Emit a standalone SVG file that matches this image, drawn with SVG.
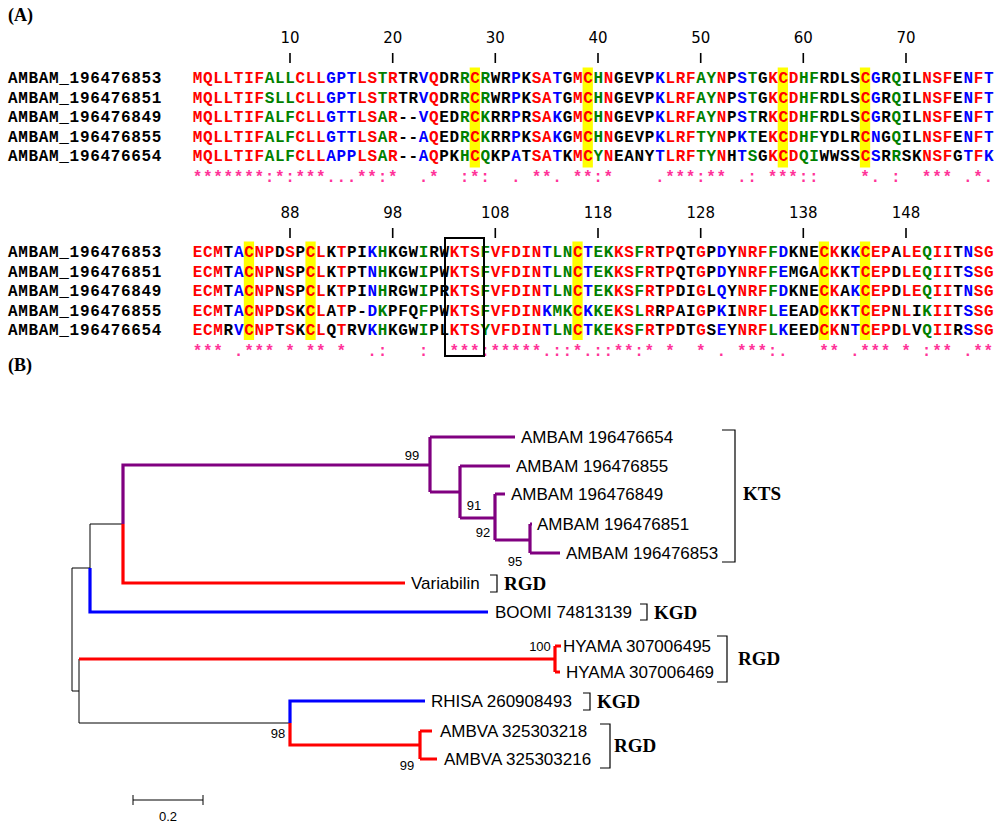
<svg xmlns="http://www.w3.org/2000/svg" width="1000" height="829" viewBox="0 0 1000 829">
<style>
.seq{font-family:"Liberation Mono","DejaVu Sans Mono",monospace;font-weight:bold;font-size:16px;letter-spacing:0.667px;fill:#000}
.r{fill:#ff0000}.g{fill:#008000}.b{fill:#0000ff}
.cons{font-family:"Liberation Mono","DejaVu Sans Mono",monospace;font-weight:bold;font-size:16px;letter-spacing:0.667px;fill:#ff3399;white-space:pre}
.num{font-family:"DejaVu Sans",sans-serif;font-size:15px;fill:#000;text-anchor:middle}
.tick{stroke:#000;stroke-width:1.6}
.hl{fill:#ffff00}
.panel{font-family:"Liberation Serif",serif;font-weight:bold;font-size:18px;fill:#000}
.leaf{font-family:"Liberation Sans",sans-serif;font-size:17px;fill:#000}
.boot{font-family:"Liberation Sans",sans-serif;font-size:13px;fill:#000;text-anchor:middle}
.motif{font-family:"Liberation Serif",serif;font-weight:bold;font-size:19px;fill:#000}
.br{fill:none;stroke:#000;stroke-width:1.2}
.pu{fill:none;stroke:#800080;stroke-width:3.2}
.rd{fill:none;stroke:#ff0000;stroke-width:3.2}
.bl{fill:none;stroke:#0000ff;stroke-width:3.2}
.bk{fill:none;stroke:#000;stroke-width:1}
</style>
<rect width="1000" height="829" fill="#fff"/>
<text class="panel" x="8" y="21">(A)</text>
<g id="alignment-block1">
<rect class="hl" x="469.7" y="67.5" width="10.27" height="100"/>
<rect class="hl" x="582.6" y="67.5" width="10.27" height="100"/>
<rect class="hl" x="777.7" y="67.5" width="10.27" height="100"/>
<rect class="hl" x="859.9" y="67.5" width="10.27" height="100"/>
<g class="num">
<text x="290" y="43">10</text><text x="392.7" y="43">20</text><text x="495.3" y="43">30</text><text x="598" y="43">40</text><text x="700.7" y="43">50</text><text x="803.3" y="43">60</text><text x="906" y="43">70</text>
</g>
<path class="tick" d="M290,53V63M392.7,53V63M495.3,53V63M598,53V63M700.7,53V63M803.3,53V63M906,53V63"/>
<text class="seq" x="8" y="83">AMBAM_196476853</text>
<text class="seq" x="8" y="102.5">AMBAM_196476851</text>
<text class="seq" x="8" y="122">AMBAM_196476849</text>
<text class="seq" x="8" y="141.5">AMBAM_196476855</text>
<text class="seq" x="8" y="161">AMBAM_196476654</text>
<text class="seq" x="192.8" y="83"><tspan class="r">MQLLTIF</tspan><tspan class="g">ALL</tspan><tspan class="r">CLL</tspan><tspan class="b">GPT</tspan><tspan class="r">LS</tspan><tspan class="g">T</tspan><tspan class="r">R</tspan>TR<tspan class="b">V</tspan><tspan class="r">Q</tspan>DR<tspan class="g">R</tspan><tspan class="r">C</tspan><tspan class="g">R</tspan>WR<tspan class="b">P</tspan>K<tspan class="r">SA</tspan><tspan class="b">T</tspan>G<tspan class="r">MC</tspan><tspan class="g">H</tspan><tspan class="r">N</tspan>GEVP<tspan class="b">K</tspan><tspan class="r">LRF</tspan><tspan class="g">AY</tspan><tspan class="r">N</tspan>P<tspan class="b">S</tspan><tspan class="g">T</tspan>G<tspan class="r">KCD</tspan><tspan class="g">HF</tspan>RDLS<tspan class="r">C</tspan><tspan class="b">G</tspan>R<tspan class="g">Q</tspan>IL<tspan class="r">NSF</tspan>E<tspan class="b">N</tspan><tspan class="r">F</tspan><tspan class="b">T</tspan></text>
<text class="seq" x="192.8" y="102.5"><tspan class="r">MQLLTIF</tspan><tspan class="g">SLL</tspan><tspan class="r">CLL</tspan><tspan class="b">GPT</tspan><tspan class="r">LS</tspan><tspan class="g">T</tspan><tspan class="r">R</tspan>TR<tspan class="b">V</tspan><tspan class="r">Q</tspan>DR<tspan class="g">R</tspan><tspan class="r">C</tspan><tspan class="g">R</tspan>WR<tspan class="b">P</tspan>K<tspan class="r">SA</tspan><tspan class="b">T</tspan>G<tspan class="r">MC</tspan><tspan class="g">H</tspan><tspan class="r">N</tspan>GEVP<tspan class="b">K</tspan><tspan class="r">LRF</tspan><tspan class="g">AY</tspan><tspan class="r">N</tspan>P<tspan class="b">S</tspan><tspan class="g">T</tspan>G<tspan class="r">KCD</tspan><tspan class="g">HF</tspan>RDLS<tspan class="r">C</tspan><tspan class="b">G</tspan>R<tspan class="g">Q</tspan>IL<tspan class="r">NSF</tspan>E<tspan class="b">N</tspan><tspan class="r">F</tspan><tspan class="b">T</tspan></text>
<text class="seq" x="192.8" y="122"><tspan class="r">MQLLTIF</tspan><tspan class="g">ALF</tspan><tspan class="r">CLL</tspan><tspan class="b">GTT</tspan><tspan class="r">LS</tspan><tspan class="g">A</tspan><tspan class="r">R</tspan>--<tspan class="b">V</tspan><tspan class="r">Q</tspan>ED<tspan class="g">R</tspan><tspan class="r">C</tspan><tspan class="g">K</tspan>RR<tspan class="b">P</tspan>R<tspan class="r">SA</tspan><tspan class="b">K</tspan>G<tspan class="r">MC</tspan><tspan class="g">H</tspan><tspan class="r">N</tspan>GEVP<tspan class="b">K</tspan><tspan class="r">LRF</tspan><tspan class="g">AY</tspan><tspan class="r">N</tspan>P<tspan class="b">S</tspan><tspan class="g">T</tspan>R<tspan class="r">KCD</tspan><tspan class="g">HF</tspan>RDLS<tspan class="r">C</tspan><tspan class="b">G</tspan>R<tspan class="g">Q</tspan>IL<tspan class="r">NSF</tspan>E<tspan class="b">N</tspan><tspan class="r">F</tspan><tspan class="b">T</tspan></text>
<text class="seq" x="192.8" y="141.5"><tspan class="r">MQLLTIF</tspan><tspan class="g">ALF</tspan><tspan class="r">CLL</tspan><tspan class="b">GTT</tspan><tspan class="r">LS</tspan><tspan class="g">A</tspan><tspan class="r">R</tspan>--<tspan class="b">A</tspan><tspan class="r">Q</tspan>ED<tspan class="g">R</tspan><tspan class="r">C</tspan><tspan class="g">K</tspan>RR<tspan class="b">P</tspan>K<tspan class="r">SA</tspan><tspan class="b">K</tspan>G<tspan class="r">MC</tspan><tspan class="g">H</tspan><tspan class="r">N</tspan>GEVP<tspan class="b">K</tspan><tspan class="r">LRF</tspan><tspan class="g">TY</tspan><tspan class="r">N</tspan>P<tspan class="b">K</tspan><tspan class="g">T</tspan>E<tspan class="r">KCD</tspan><tspan class="g">HF</tspan>YDLR<tspan class="r">C</tspan><tspan class="b">N</tspan>G<tspan class="g">Q</tspan>IL<tspan class="r">NSF</tspan>E<tspan class="b">N</tspan><tspan class="r">F</tspan><tspan class="b">T</tspan></text>
<text class="seq" x="192.8" y="161"><tspan class="r">MQLLTIF</tspan><tspan class="g">ALF</tspan><tspan class="r">CLL</tspan><tspan class="b">APP</tspan><tspan class="r">LS</tspan><tspan class="g">A</tspan><tspan class="r">R</tspan>--<tspan class="b">A</tspan><tspan class="r">Q</tspan>PK<tspan class="g">H</tspan><tspan class="r">C</tspan><tspan class="g">Q</tspan>KP<tspan class="b">A</tspan>T<tspan class="r">SA</tspan><tspan class="b">T</tspan>K<tspan class="r">MC</tspan><tspan class="g">Y</tspan><tspan class="r">N</tspan>EANY<tspan class="b">T</tspan><tspan class="r">LRF</tspan><tspan class="g">TY</tspan><tspan class="r">N</tspan>H<tspan class="b">T</tspan><tspan class="g">S</tspan>G<tspan class="r">KCD</tspan><tspan class="g">QI</tspan>WWSS<tspan class="r">C</tspan><tspan class="b">S</tspan>R<tspan class="g">R</tspan>SK<tspan class="r">NSF</tspan>G<tspan class="b">T</tspan><tspan class="r">F</tspan><tspan class="b">K</tspan></text>
<text class="cons" x="192.8" y="182" xml:space="preserve">*******:*:***...**:*  .*  :*:  . **. **:*    .***:** .: ***::    *. :  *** .*.</text>
</g>
<g id="alignment-block2">
<rect class="hl" x="243.8" y="241.5" width="10.27" height="98.5"/>
<rect class="hl" x="305.4" y="241.5" width="10.27" height="98.5"/>
<rect class="hl" x="572.4" y="241.5" width="10.27" height="98.5"/>
<rect class="hl" x="818.8" y="241.5" width="10.27" height="98.5"/>
<rect class="hl" x="859.9" y="241.5" width="10.27" height="98.5"/>
<g class="num">
<text x="290" y="218">88</text><text x="392.7" y="218">98</text><text x="495.3" y="218">108</text><text x="598" y="218">118</text><text x="700.7" y="218">128</text><text x="803.3" y="218">138</text><text x="906" y="218">148</text>
</g>
<path class="tick" d="M290,228V238M392.7,228V238M495.3,228V238M598,228V238M700.7,228V238M803.3,228V238M906,228V238"/>
<text class="seq" x="8" y="257">AMBAM_196476853</text>
<text class="seq" x="8" y="276.5">AMBAM_196476851</text>
<text class="seq" x="8" y="296">AMBAM_196476849</text>
<text class="seq" x="8" y="315.5">AMBAM_196476855</text>
<text class="seq" x="8" y="335">AMBAM_196476654</text>
<text class="seq" x="192.8" y="257"><tspan class="r">ECM</tspan>T<tspan class="b">A</tspan><tspan class="r">CNP</tspan>D<tspan class="r">S</tspan>P<tspan class="r">CL</tspan>K<tspan class="r">T</tspan>PI<tspan class="b">K</tspan><tspan class="g">H</tspan>KGW<tspan class="g">I</tspan>RW<tspan class="r">KTS</tspan><tspan class="g">F</tspan><tspan class="r">VFDIN</tspan><tspan class="b">T</tspan><tspan class="g">LN</tspan><tspan class="r">C</tspan><tspan class="b">T</tspan><tspan class="g">EK</tspan><tspan class="r">KS</tspan><tspan class="g">F</tspan><tspan class="r">R</tspan>T<tspan class="r">P</tspan>QT<tspan class="r">G</tspan>P<tspan class="b">D</tspan>Y<tspan class="r">NRF</tspan><tspan class="g">F</tspan><tspan class="b">D</tspan>KNE<tspan class="r">CK</tspan>K<tspan class="b">K</tspan><tspan class="r">CEP</tspan>A<tspan class="r">LE</tspan><tspan class="g">Q</tspan><tspan class="r">II</tspan>T<tspan class="b">N</tspan><tspan class="r">SG</tspan></text>
<text class="seq" x="192.8" y="276.5"><tspan class="r">ECM</tspan>T<tspan class="b">A</tspan><tspan class="r">CNP</tspan>N<tspan class="r">S</tspan>P<tspan class="r">CL</tspan>K<tspan class="r">T</tspan>PT<tspan class="b">N</tspan><tspan class="g">H</tspan>KGW<tspan class="g">I</tspan>PW<tspan class="r">KTS</tspan><tspan class="g">F</tspan><tspan class="r">VFDIN</tspan><tspan class="b">T</tspan><tspan class="g">LN</tspan><tspan class="r">C</tspan><tspan class="b">T</tspan><tspan class="g">EK</tspan><tspan class="r">KS</tspan><tspan class="g">F</tspan><tspan class="r">R</tspan>T<tspan class="r">P</tspan>QT<tspan class="r">G</tspan>P<tspan class="b">D</tspan>Y<tspan class="r">NRF</tspan><tspan class="g">F</tspan><tspan class="b">E</tspan>MGA<tspan class="r">CK</tspan>K<tspan class="b">T</tspan><tspan class="r">CEP</tspan>D<tspan class="r">LE</tspan><tspan class="g">Q</tspan><tspan class="r">II</tspan>T<tspan class="b">S</tspan><tspan class="r">SG</tspan></text>
<text class="seq" x="192.8" y="296"><tspan class="r">ECM</tspan>T<tspan class="b">A</tspan><tspan class="r">CNP</tspan>N<tspan class="r">S</tspan>P<tspan class="r">CL</tspan>K<tspan class="r">T</tspan>PI<tspan class="b">N</tspan><tspan class="g">H</tspan>RGW<tspan class="g">I</tspan>PR<tspan class="r">KTS</tspan><tspan class="g">F</tspan><tspan class="r">VFDIN</tspan><tspan class="b">T</tspan><tspan class="g">LN</tspan><tspan class="r">C</tspan><tspan class="b">T</tspan><tspan class="g">EK</tspan><tspan class="r">KS</tspan><tspan class="g">F</tspan><tspan class="r">R</tspan>T<tspan class="r">P</tspan>DI<tspan class="r">G</tspan>L<tspan class="b">Q</tspan>Y<tspan class="r">NRF</tspan><tspan class="g">F</tspan><tspan class="b">D</tspan>KNE<tspan class="r">CK</tspan>A<tspan class="b">K</tspan><tspan class="r">CEP</tspan>D<tspan class="r">LE</tspan><tspan class="g">Q</tspan><tspan class="r">II</tspan>T<tspan class="b">N</tspan><tspan class="r">SG</tspan></text>
<text class="seq" x="192.8" y="315.5"><tspan class="r">ECM</tspan>T<tspan class="b">A</tspan><tspan class="r">CNP</tspan>D<tspan class="r">S</tspan>K<tspan class="r">CL</tspan>A<tspan class="r">T</tspan>P-<tspan class="b">D</tspan><tspan class="g">K</tspan>PFQ<tspan class="g">F</tspan>PW<tspan class="r">KTS</tspan><tspan class="g">F</tspan><tspan class="r">VFDIN</tspan><tspan class="b">K</tspan><tspan class="g">MK</tspan><tspan class="r">C</tspan><tspan class="b">K</tspan><tspan class="g">KE</tspan><tspan class="r">KS</tspan><tspan class="g">L</tspan><tspan class="r">R</tspan>R<tspan class="r">P</tspan>AI<tspan class="r">G</tspan>P<tspan class="b">K</tspan>I<tspan class="r">NRF</tspan><tspan class="g">L</tspan><tspan class="b">E</tspan>EAD<tspan class="r">CK</tspan>K<tspan class="b">T</tspan><tspan class="r">CEP</tspan>N<tspan class="r">L</tspan>I<tspan class="g">K</tspan><tspan class="r">II</tspan>T<tspan class="b">S</tspan><tspan class="r">SG</tspan></text>
<text class="seq" x="192.8" y="335"><tspan class="r">ECM</tspan>R<tspan class="b">V</tspan><tspan class="r">CNP</tspan>T<tspan class="r">S</tspan>K<tspan class="r">CL</tspan>Q<tspan class="r">T</tspan>RV<tspan class="b">K</tspan><tspan class="g">H</tspan>KGW<tspan class="g">I</tspan>PL<tspan class="r">KTS</tspan><tspan class="g">Y</tspan><tspan class="r">VFDIN</tspan><tspan class="b">T</tspan><tspan class="g">LN</tspan><tspan class="r">C</tspan><tspan class="b">T</tspan><tspan class="g">KE</tspan><tspan class="r">KS</tspan><tspan class="g">F</tspan><tspan class="r">R</tspan>T<tspan class="r">P</tspan>DT<tspan class="r">G</tspan>S<tspan class="b">E</tspan>Y<tspan class="r">NRF</tspan><tspan class="g">L</tspan><tspan class="b">K</tspan>EED<tspan class="r">CK</tspan>N<tspan class="b">T</tspan><tspan class="r">CEP</tspan>D<tspan class="r">L</tspan>V<tspan class="g">Q</tspan><tspan class="r">II</tspan>R<tspan class="b">S</tspan><tspan class="r">SG</tspan></text>
<text class="cons" x="192.8" y="356" xml:space="preserve">*** .*** * ** *  .:   :  ***:*****.::*.::**:* *  * . ***:.   ** .*** * :** .**</text>
<rect x="445" y="238" width="39" height="118" fill="none" stroke="#000" stroke-width="2"/>
</g>
<text class="panel" x="8" y="371">(B)</text>
<g id="connectors">
<path class="bk" d="M90,524H123M90,524V568M72,568H90M72,568V691M72,691H79M79,659V723M79,723H290"/>
<path class="pu" d="M123,524V465H430M430,437V492M430,437H515M430,492H460M460,466V518M460,466H510M460,518H495M495,494V540M495,494H505M495,540H530M530,524V553M530,524H532M530,553H560"/>
<path class="rd" d="M123,524V583H405"/>
<path class="bl" d="M90,568V612H488"/>
<path class="rd" d="M79,659H555M555,646V672M555,646H561M555,672H560"/>
<path class="bl" d="M290,723V701H425"/>
<path class="rd" d="M290,723V745H420M420,731V759M420,731H432M420,759H437"/>
</g>
<g id="bootstrap">
<text class="boot" x="412" y="460">99</text>
<text class="boot" x="474" y="510">91</text>
<text class="boot" x="483" y="537">92</text>
<text class="boot" x="515" y="566">95</text>
<text class="boot" x="540" y="651">100</text>
<text class="boot" x="278" y="738">98</text>
<text class="boot" x="407" y="770">99</text>
</g>
<g id="leaf-654"><text class="leaf" x="521" y="443">AMBAM 196476654</text></g>
<g id="leaf-855"><text class="leaf" x="516" y="472">AMBAM 196476855</text></g>
<g id="leaf-849"><text class="leaf" x="511" y="500">AMBAM 196476849</text></g>
<g id="leaf-851"><text class="leaf" x="537" y="530">AMBAM 196476851</text></g>
<g id="leaf-853"><text class="leaf" x="566" y="559">AMBAM 196476853</text></g>
<g id="leaf-variabilin"><text class="leaf" x="411" y="589">Variabilin</text></g>
<g id="leaf-boomi"><text class="leaf" x="495" y="618">BOOMI 74813139</text></g>
<g id="leaf-hyama495"><text class="leaf" x="563" y="652">HYAMA 307006495</text></g>
<g id="leaf-hyama469"><text class="leaf" x="566" y="678">HYAMA 307006469</text></g>
<g id="leaf-rhisa"><text class="leaf" x="431" y="707">RHISA 260908493</text></g>
<g id="leaf-ambva218"><text class="leaf" x="440" y="737">AMBVA 325303218</text></g>
<g id="leaf-ambva216"><text class="leaf" x="444" y="765">AMBVA 325303216</text></g>
<g id="motif-kts"><path class="br" d="M722,430H735V562H722"/><text class="motif" x="743" y="500">KTS</text></g>
<g id="motif-rgd1"><path class="br" d="M490,575H497V592H490"/><text class="motif" x="504" y="590">RGD</text></g>
<g id="motif-kgd1"><path class="br" d="M640,604H647V620H640"/><text class="motif" x="654" y="619">KGD</text></g>
<g id="motif-rgd2"><path class="br" d="M717,636H727V682H717"/><text class="motif" x="738" y="665">RGD</text></g>
<g id="motif-kgd2"><path class="br" d="M583,693H590V710H583"/><text class="motif" x="597" y="708">KGD</text></g>
<g id="motif-rgd3"><path class="br" d="M600,724H610V768H600"/><text class="motif" x="614" y="752">RGD</text></g>
<g id="scalebar">
<path class="bk" d="M133,800H203M133,795V805M203,795V805"/>
<text class="boot" x="168" y="821">0.2</text>
</g>
</svg>
